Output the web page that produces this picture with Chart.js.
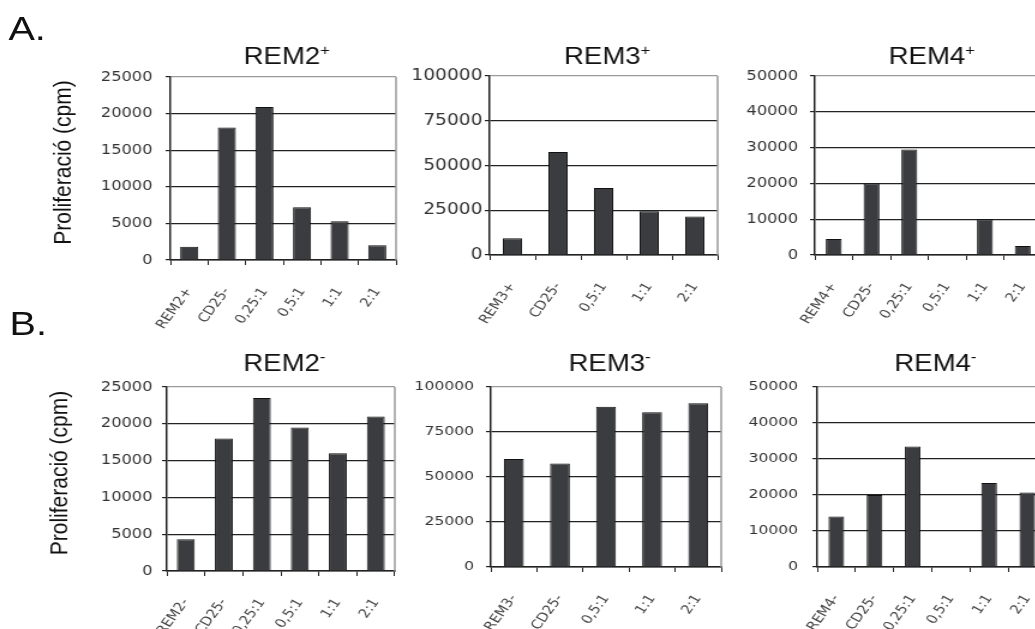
<!DOCTYPE html>
<html>
<head>
<meta charset="utf-8">
<title>Proliferació REM</title>
<script src="https://cdn.jsdelivr.net/npm/chart.js@4.4.1/dist/chart.umd.min.js"></script>
<style>
  html, body { margin: 0; background: #fff; overflow: hidden; }
  /* panels are laid out 880px wide and widened to the page */
  #figure { position: relative; width: 880px; height: 629px; transform: scaleX(1.2); transform-origin: 0 0; }
  #figure canvas { position: absolute; }
  .panel-letter { position: absolute; font: 33px "Liberation Sans", Arial, sans-serif; line-height: 33px; color: #111; }
</style>
</head>
<body>
<div id="figure">
  <div class="panel-letter" style="left:7px;top:12px">A.</div>
  <div class="panel-letter" style="left:8px;top:307px">B.</div>
</div>
<script>
// cpm per condition, one array per population
const catsREM2pos = ['REM2+', 'CD25-', '0,25:1', '0,5:1', '1:1', '2:1'];
const cpmREM2pos  = [1800, 18100, 20900, 7200, 5300, 2000];

const catsREM3pos = ['REM3+', 'CD25-', '0,5:1', '1:1', '2:1'];
const cpmREM3pos  = [9300, 57500, 37500, 24500, 21500];

const catsREM4pos = ['REM4+', 'CD25-', '0,25:1', '0,5:1', '1:1', '2:1'];
const cpmREM4pos  = [4500, 20000, 29500, null, 10000, 2500];

const catsREM2neg = ['REM2-', 'CD25-', '0,25:1', '0,5:1', '1:1', '2:1'];
const cpmREM2neg  = [4300, 18000, 23500, 19500, 16000, 21000];

const catsREM3neg = ['REM3-', 'CD25-', '0,5:1', '1:1', '2:1'];
const cpmREM3neg  = [60000, 57500, 89000, 86000, 91000];

const catsREM4neg = ['REM4-', 'CD25-', '0,25:1', '0,5:1', '1:1', '2:1'];
const cpmREM4neg  = [14000, 20000, 33500, null, 23300, 20700];

// y ranges: [max, step]
const rangeREM2 = [25000, 5000];
const rangeREM3 = [100000, 25000];
const rangeREM4 = [50000, 10000];

const Y_TITLE = 'Proliferació (cpm)';

// plot boxes [left, top, right, bottom] in layout px, plus per-panel styling
const panels = [
  { name: 'REM2', sign: '+', cats: catsREM2pos, cpm: cpmREM2pos, range: rangeREM2, box: [141.7, 77, 329.2, 260], font: 13.5, pad: 11, bar: 0.48, gap: 13, yTitle: true },
  { name: 'REM3', sign: '+', cats: catsREM3pos, cpm: cpmREM3pos, range: rangeREM3, box: [407.5, 76, 597.5, 255], font: 15.5, pad: 2, bar: 0.42, gap: 12 },
  { name: 'REM4', sign: '+', cats: catsREM4pos, cpm: cpmREM4pos, range: rangeREM4, box: [679.2, 76, 868.3, 255], font: 13.5, pad: 10, bar: 0.42, gap: 12 },
  { name: 'REM2', sign: '-', cats: catsREM2neg, cpm: cpmREM2neg, range: rangeREM2, box: [139.2, 387, 329.2, 571], font: 13.5, pad: 8, bar: 0.47, gap: 16, yTitle: true },
  { name: 'REM3', sign: '-', cats: catsREM3neg, cpm: cpmREM3neg, range: rangeREM3, box: [409.2, 387, 600.8, 567], font: 13, pad: 10, bar: 0.43, gap: 16 },
  { name: 'REM4', sign: '-', cats: catsREM4neg, cpm: cpmREM4neg, range: rangeREM4, box: [680.8, 387, 871.7, 567], font: 13, pad: 12, bar: 0.41, gap: 16 }
];

const Y_W = 70, X_H = 90, PAD_T = 45, PAD_R = 6;
const SANS = '"Liberation Sans", Arial, sans-serif';

// title with superscript sign, grey right frame, optional y title
const panelText = {
  id: 'panelText',
  afterDraw(chart, args, o) {
    const { ctx, chartArea: a } = chart;
    ctx.save();
    ctx.strokeStyle = '#9a9a9a';
    ctx.lineWidth = 1.5;
    ctx.beginPath();
    ctx.moveTo(a.right, a.top);
    ctx.lineTo(a.right, a.bottom);
    ctx.stroke();

    ctx.fillStyle = '#111';
    ctx.textAlign = 'left';
    ctx.textBaseline = 'alphabetic';
    ctx.font = '23px ' + SANS;
    const w1 = ctx.measureText(o.name).width;
    ctx.font = '14px ' + SANS;
    const w2 = ctx.measureText(o.sign).width;
    const x0 = (a.left + a.right) / 2 - (w1 + w2) / 2 + 3;
    const y0 = a.top - o.gap;
    ctx.font = '23px ' + SANS;
    ctx.fillText(o.name, x0, y0);
    ctx.font = '14px ' + SANS;
    ctx.fillText(o.sign, x0 + w1, y0 - 9);

    if (o.yTitle) {
      ctx.translate(a.left - 89, (a.top + a.bottom) / 2 - 6);
      ctx.rotate(-Math.PI / 2);
      ctx.textAlign = 'center';
      ctx.textBaseline = 'middle';
      ctx.font = '21px ' + SANS;
      ctx.fillText(Y_TITLE, 0, 0);
    }
    ctx.restore();
  }
};

const figure = document.getElementById('figure');

panels.forEach(p => {
  const [L, T, R, B] = p.box;
  const padL = p.yTitle ? 40 : 0;
  const cv = document.createElement('canvas');
  const w = Math.round(R - L) + padL + Y_W + PAD_R;
  const h = Math.round(B - T) + PAD_T + X_H;
  cv.width = w;
  cv.height = h;
  cv.style.width = w + 'px';
  cv.style.height = h + 'px';
  cv.style.left = (L - padL - Y_W) + 'px';
  cv.style.top = (T - PAD_T) + 'px';
  figure.appendChild(cv);

  const [max, step] = p.range;
  new Chart(cv, {
    type: 'bar',
    data: {
      labels: p.cats,
      datasets: [{
        data: p.cpm,
        backgroundColor: '#3b3c3f',
        borderColor: '#111',
        borderWidth: 1,
        barPercentage: p.bar,
        categoryPercentage: 1
      }]
    },
    options: {
      responsive: false,
      animation: false,
      layout: { padding: { left: padL, top: PAD_T, right: PAD_R, bottom: 0 } },
      plugins: {
        legend: { display: false },
        tooltip: { enabled: false },
        panelText: { name: p.name, sign: p.sign, gap: p.gap, yTitle: !!p.yTitle }
      },
      scales: {
        x: {
          grid: { offset: true, drawOnChartArea: false, drawTicks: true, tickLength: 5, color: '#222' },
          border: { color: '#222', width: 1.5 },
          ticks: {
            autoSkip: false, minRotation: 58, maxRotation: 58, padding: 20,
            color: '#444', font: { family: 'DejaVu Sans', size: 12.5 }
          },
          // keep the plot box fixed: no extra room for the rotated end labels
          afterFit: s => { s.height = X_H; s.paddingLeft = 0; s.paddingRight = 0; }
        },
        y: {
          min: 0, max: max,
          ticks: {
            stepSize: step, padding: p.pad, color: '#333',
            font: { family: 'DejaVu Sans', size: p.font },
            callback: v => String(v)
          },
          grid: {
            color: c => (c.tick && c.tick.value === max) ? '#9a9a9a' : '#222',
            tickColor: '#222', tickLength: 4, lineWidth: 1.2
          },
          border: { color: '#222', width: 1.5 },
          afterFit: s => { s.width = Y_W; }
        }
      }
    },
    plugins: [panelText]
  });
});
</script>
</body>
</html>
